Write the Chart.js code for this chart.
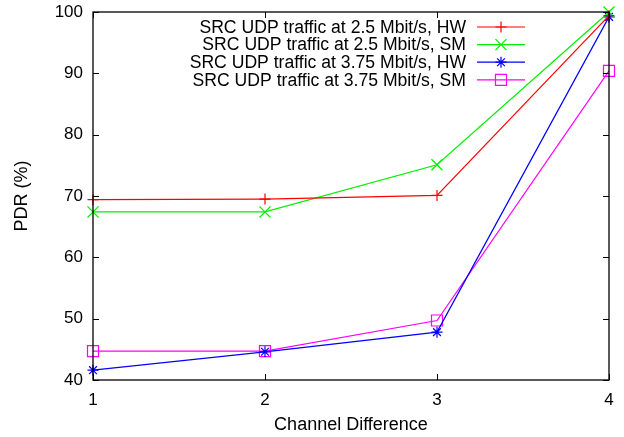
<!DOCTYPE html>
<html>
<head>
<meta charset="utf-8">
<script src="https://cdn.jsdelivr.net/npm/chart.js@4.4.1/dist/chart.umd.min.js"></script>
<style>
  html, body { margin: 0; padding: 0; background: #fff; }
  #wrap { width: 624px; height: 437px; position: relative; }
</style>
</head>
<body>
<div id="wrap"><canvas id="chart"></canvas></div>
<script>
// data
const channelDiff = [1, 2, 3, 4];
const yTicks = [40, 50, 60, 70, 80, 90, 100];
const hw25 = [69.4, 69.5, 70.1, 99.4];
const sm25 = [67.4, 67.4, 75.1, 100];
const hw375 = [41.6, 44.6, 47.8, 99.2];
const sm375 = [44.7, 44.7, 49.7, 90.4];

const labels = [
  'SRC UDP traffic at 2.5 Mbit/s, HW',
  'SRC UDP traffic at 2.5 Mbit/s, SM',
  'SRC UDP traffic at 3.75 Mbit/s, HW',
  'SRC UDP traffic at 3.75 Mbit/s, SM'
];
const colors = ['#ff0000', '#00f000', '#0000ff', '#ff00ff'];
const markers = ['cross', 'crossRot', 'star', 'rect'];
const markerSize = [5.5, 7.8, 5.5, 7.8];

const FONT = 'Liberation Sans, Arial, Helvetica, sans-serif';

const toPoints = vals => vals.map((v, i) => ({ x: channelDiff[i], y: v }));

const datasets = [hw25, sm25, hw375, sm375].map((vals, i) => ({
  label: labels[i],
  data: toPoints(vals),
  borderColor: colors[i],
  backgroundColor: 'rgba(0,0,0,0)',
  borderWidth: 1.2,
  pointStyle: markers[i],
  pointRadius: markerSize[i],
  pointBorderColor: colors[i],
  pointBorderWidth: 1.2,
  pointBackgroundColor: 'rgba(0,0,0,0)',
  tension: 0,
  clip: false
}));

// gnuplot style frame with inward ticks
const framePlugin = {
  id: 'frame',
  afterDraw(chart) {
    const { ctx, chartArea: a, scales } = chart;
    ctx.save();
    ctx.strokeStyle = '#000';
    ctx.lineWidth = 1.3;
    ctx.strokeRect(a.left, a.top, a.right - a.left, a.bottom - a.top);
    ctx.lineWidth = 1;
    ctx.beginPath();
    const tl = 6;
    yTicks.forEach(v => {
      const y = Math.round(scales.y.getPixelForValue(v)) + 0.5;
      ctx.moveTo(a.left, y); ctx.lineTo(a.left + tl, y);
      ctx.moveTo(a.right, y); ctx.lineTo(a.right - tl, y);
    });
    channelDiff.forEach(v => {
      const x = Math.round(scales.x.getPixelForValue(v)) + 0.5;
      ctx.moveTo(x, a.bottom); ctx.lineTo(x, a.bottom - tl);
      ctx.moveTo(x, a.top); ctx.lineTo(x, a.top + tl);
    });
    ctx.stroke();
    ctx.restore();
  }
};

// key in the top right: text first, then line sample with marker
const keyPlugin = {
  id: 'key',
  afterDraw(chart) {
    const { ctx } = chart;
    ctx.save();
    ctx.font = '17.6px ' + FONT;
    ctx.textAlign = 'right';
    ctx.textBaseline = 'middle';
    chart.data.datasets.forEach((ds, i) => {
      const y = 27 + i * 17.6;
      ctx.fillStyle = '#000';
      ctx.fillText(ds.label, 466, y + 1);
      ctx.strokeStyle = ds.borderColor;
      ctx.lineWidth = 1.2;
      ctx.beginPath();
      ctx.moveTo(477, y); ctx.lineTo(525, y);
      ctx.stroke();
      ctx.fillStyle = 'rgba(0,0,0,0)';
      Chart.helpers.drawPoint(ctx, {
        pointStyle: ds.pointStyle,
        radius: ds.pointRadius,
        borderWidth: 1.2,
        rotation: 0
      }, 501, y);
    });
    ctx.restore();
  }
};

new Chart(document.getElementById('chart'), {
  type: 'line',
  data: { datasets },
  plugins: [framePlugin, keyPlugin],
  options: {
    responsive: true,
    maintainAspectRatio: false,
    animation: false,
    layout: { padding: { left: 0, top: 12, right: 15, bottom: 0 } },
    plugins: {
      legend: { display: false },
      tooltip: { enabled: false }
    },
    scales: {
      x: {
        type: 'linear',
        min: 1,
        max: 4,
        afterFit: s => { s.height = 57; s.paddingLeft = 0; s.paddingRight = 0; },
        afterBuildTicks: s => { s.ticks = channelDiff.map(v => ({ value: v })); },
        grid: { display: false, drawTicks: false },
        border: { display: false },
        ticks: {
          color: '#000',
          padding: 10,
          font: { family: FONT, size: 17 }
        },
        title: {
          display: true,
          text: 'Channel Difference',
          color: '#000',
          padding: { top: 0, bottom: 1 },
          font: { family: FONT, size: 18 }
        }
      },
      y: {
        min: 40,
        max: 100,
        afterFit: s => { s.width = 93; s.paddingTop = 0; s.paddingBottom = 0; },
        afterBuildTicks: s => { s.ticks = yTicks.map(v => ({ value: v })); },
        grid: { display: false, drawTicks: false },
        border: { display: false },
        ticks: {
          color: '#000',
          padding: 10,
          font: { family: FONT, size: 17 }
        },
        title: {
          display: true,
          text: 'PDR (%)',
          color: '#000',
          padding: { top: 11, bottom: 0 },
          font: { family: FONT, size: 18 }
        }
      }
    }
  }
});
</script>
</body>
</html>
